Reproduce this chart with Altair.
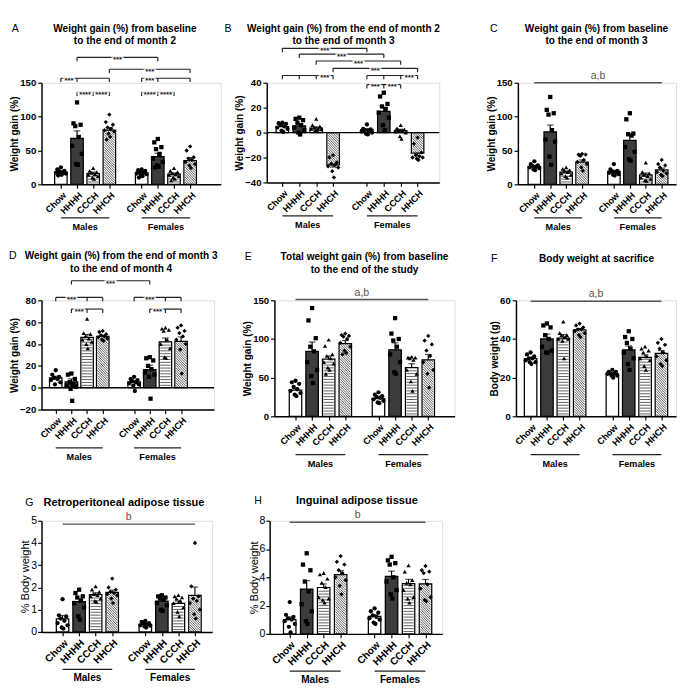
import altair as alt
import numpy as np
import pandas as pd

FONT = "Liberation Sans"
GROUPS = ["Chow", "HHHH", "CCCH", "HHCH"]
POS = [1, 2, 3, 4, 6, 7, 8, 9]
CATS = GROUPS + GROUPS
SEX_LABELS = ["Males", "Females"]
SEX_SPANS = [(1, 4), (6, 9)]
FILLS = ["white", "#3c3c3c", "white", "white"]
LABEL_EXPR = "['','Chow','HHHH','CCCH','HHCH','','Chow','HHHH','CCCH','HHCH'][datum.value]"
OFFS = [0, -0.22, 0.22, -0.11, 0.11, -0.3, 0.3, -0.05, 0.05, -0.17, 0.17]
BW = 13

# ---------------- data ----------------
A_mean = [18, 68, 16, 80, 17, 41, 15, 35]
A_sem = [1.3, 11, 2, 4, 1.3, 5, 1.8, 4.5]
A_pts = [
    [25, 22, 20, 19, 18, 17, 16, 15, 14, 13],
    [121, 90, 88, 86, 70, 57, 45, 30, 29],
    [24, 20, 18, 17, 15, 14, 12, 10, 8],
    [103, 92, 88, 84, 82, 80, 78, 75, 70, 66],
    [22, 21, 20, 18, 17, 16, 15, 14, 12, 10],
    [67, 62, 55, 52, 45, 38, 33, 28, 26, 25],
    [24, 20, 18, 16, 15, 14, 12, 10, 8, 6],
    [56, 50, 40, 38, 36, 33, 30, 28, 24],
]
A_br = [(2, 7, 187.5, [], [(4.5, "***")]), (4, 9, 170, [], [(6.5, "***")]),
        (1, 4, 156.7, [2], [(1.5, "***")]), (6, 9, 156.7, [7], [(6.5, "***")]),
        (2, 4, 136, [3], [(2.5, "****"), (3.5, "****")]),
        (6, 8, 136, [7], [(6.5, "****"), (7.5, "****")])]

B_mean = [4.8, 5.3, 3.6, -26, 2.4, 17, 1.5, -16.5]
B_sem = [0.9, 1.5, 1.0, 1.7, 0.8, 3.0, 1.2, 2.0]
B_pts = [
    [8, 7.5, 7, 6, 5, 4, 3, 1.5, 0.5],
    [12, 11, 10, 8, 6, 4, 2, 0, -1.5],
    [11, 6, 5, 4, 3, 3, 2.5, 2, 1.5],
    [-18, -20, -24, -25, -26, -27, -28, -31, -36],
    [6.5, 3, 2.5, 2, 1.5, 1, 0, -1, -1.5],
    [32, 29, 23, 21, 19, 16, 12, 6, 2],
    [6, 3.5, 2.5, 2, 1.5, 1, 0, -3, -5],
    [-4, -9, -16, -18, -19, -20, -20, -21, -22],
]
B_br = [(1, 6, 67.6, [], [(3.5, "***")]), (2, 7, 63, [], [(4.5, "***")]),
        (3, 8, 57.5, [], [(5.5, "***")]), (4, 9, 51.6, [], [(6.5, "***")]),
        (1, 4, 45.8, [2, 3], [(3.5, "***")]), (6, 9, 45.8, [7, 8], [(8.5, "***")]),
        (6, 8, 38.5, [7], [(6.5, "***"), (7.5, "***")])]

C_mean = [26, 77.5, 18, 33, 19, 65, 14, 21.5]
C_sem = [1.5, 10, 1.7, 3, 1.8, 8, 2.8, 2.5]
C_pts = [
    [34, 30, 28, 27, 26, 25, 24, 22, 21],
    [129, 110, 105, 103, 80, 66, 63, 41, 29],
    [25, 23, 21, 20, 18, 16, 14, 12, 10],
    [45, 44, 44, 42, 36, 33, 30, 25, 20],
    [30, 22, 20, 19, 18, 17, 15, 14, 13],
    [105, 96, 75, 74, 72, 55, 48, 37, 35],
    [32, 18, 16, 14, 12, 10, 8, 6, 5],
    [36, 30, 28, 25, 20, 18, 16, 14, 12],
]

D_mean = [9, 5.3, 46, 47, 5.3, 16.6, 42, 42.5]
D_sem = [1.5, 2.8, 2.8, 1.2, 1.3, 4, 3.5, 4]
D_pts = [
    [16, 12, 10, 9, 8, 7, 5, 3],
    [13, 12, 8, 5, 3, 2, 1, -1, -12],
    [63, 50, 49, 47, 45, 44, 42, 40, 36],
    [52, 51, 49, 48, 47, 46, 45, 44, 43],
    [10, 8, 7, 6, 5, 4, 3, 2, -3],
    [28, 27, 25, 20, 17, 14, 12, 10, -10],
    [55, 54, 53, 52, 44, 40, 36, 28, 27],
    [57, 55, 52, 50, 47, 44, 40, 35, 13],
]
D_br = [(2, 7, 97.9, [], [(4.5, "***")]),
        (1, 4, 82.7, [3], [(2, "***")]), (6, 9, 82.7, [8], [(7, "***")]),
        (2, 4, 72, [3], [(2.5, "***")]), (7, 9, 72, [8], [(7.5, "***")])]

E_mean = [34, 84, 74, 94, 23, 86, 63, 73]
E_sem = [2, 12, 4, 4, 1.5, 9, 5, 7]
E_pts = [
    [46, 44, 42, 38, 35, 33, 30, 28, 26],
    [140, 124, 101, 90, 84, 70, 60, 52, 43],
    [99, 91, 80, 78, 75, 70, 68, 63, 60, 55],
    [107, 105, 104, 103, 100, 95, 90, 85, 82, 80],
    [31, 28, 26, 25, 24, 22, 20, 18, 17],
    [127, 107, 100, 98, 90, 80, 70, 57, 55],
    [77, 76, 76, 75, 73, 60, 55, 45, 33],
    [104, 98, 93, 85, 78, 70, 60, 55, 37],
]

F_mean = [29.9, 40, 40.5, 44.7, 22, 34.4, 30.5, 32.5]
F_sem = [0.6, 2.5, 1.8, 0.7, 0.4, 2, 1.3, 1.5]
F_pts = [
    [33, 32, 31, 30, 30, 29, 28, 28, 27],
    [48, 47, 46, 42, 40, 36, 34, 33, 33],
    [49, 43, 42, 42, 41, 40, 40, 39, 30],
    [48, 47, 46, 45, 45, 44, 43, 42, 41],
    [24, 23, 23, 22, 22, 22, 21, 21, 20],
    [44, 41, 40, 38, 35, 33, 30, 27, 24],
    [36, 35, 34, 33, 31, 30, 29, 26, 24],
    [40, 38, 37, 35, 33, 31, 29, 27, 26],
]

G_mean = [0.59, 1.36, 1.68, 1.78, 0.34, 1.39, 1.29, 1.64]
G_sem = [0.15, 0.14, 0.08, 0.1, 0.03, 0.08, 0.1, 0.38]
G_pts = [
    [1.47, 0.75, 0.7, 0.6, 0.5, 0.4, 0.3, 0.2, 0.15],
    [1.9, 1.75, 1.6, 1.55, 1.4, 1.3, 1.1, 0.7, 0.55],
    [2.05, 1.9, 1.8, 1.7, 1.65, 1.6, 1.5, 1.4, 1.35],
    [2.4, 2.0, 1.9, 1.8, 1.75, 1.7, 1.65, 1.5, 1.3],
    [0.5, 0.45, 0.4, 0.38, 0.35, 0.3, 0.28, 0.25, 0.2],
    [1.65, 1.6, 1.55, 1.5, 1.45, 1.3, 1.2, 1.0, 0.95],
    [1.65, 1.6, 1.55, 1.5, 1.4, 1.3, 1.1, 0.9, 0.7],
    [4.0, 2.05, 1.6, 1.5, 1.4, 1.3, 1.0, 0.8, 0.6],
]

H_mean = [1.0, 3.17, 3.28, 4.19, 1.23, 4.06, 3.56, 3.53]
H_sem = [0.2, 0.6, 0.25, 0.28, 0.12, 0.38, 0.3, 0.32]
H_pts = [
    [2.25, 1.35, 1.2, 1.1, 1.0, 0.9, 0.7, 0.5, 0.1],
    [5.7, 4.9, 4.5, 3.7, 3.0, 2.1, 1.6, 0.9, 0.7],
    [4.3, 4.2, 3.9, 3.6, 3.3, 2.6, 2.5, 2.4, 2.2],
    [5.5, 5.1, 4.9, 4.5, 4.3, 4.0, 3.8, 3.4, 2.8],
    [1.8, 1.6, 1.5, 1.3, 1.2, 1.1, 1.0, 0.8, 0.7],
    [5.45, 5.2, 5.0, 4.9, 4.0, 3.7, 3.1, 2.8, 2.5],
    [4.85, 4.4, 3.8, 3.6, 3.5, 3.1, 2.6, 2.5, 2.2],
    [4.8, 4.5, 4.4, 4.3, 3.5, 3.2, 2.6, 2.4, 2.3],
]

# tpos / lpos: (x, baseline y) of the first title line and of the panel letter,
# in pixels relative to the plot's top-left corner
PANELS = {
    "A": dict(title=["Weight gain (%) from baseline", "to the end of  month 2"], ylab="Weight gain (%)",
              ydom=[0, 150], yticks=[0, 50, 100, 150], W=187, H=106, xdom=[0.1, 10.6],
              mean=A_mean, sem=A_sem, pts=A_pts, br=A_br, sig=None, row=1,
              tpos=(87, -53), lpos=(-31, -53), hhch="diamond"),
    "B": dict(title=["Weight gain (%) from the end of month 2", "to the end of month 3"], ylab="Weight gain (%)",
              ydom=[-40, 40], yticks=[-40, -20, 0, 20, 40], W=180, H=104, xdom=[0.36, 10],
              mean=B_mean, sem=B_sem, pts=B_pts, br=B_br, sig=None, row=1,
              tpos=(80, -53), lpos=(-44, -53), hhch="triangle-down"),
    "C": dict(title=["Weight gain (%) from baseline", "to the end of month 3"], ylab="Weight gain (%)",
              ydom=[0, 150], yticks=[0, 50, 100, 150], W=165, H=106, xdom=[0.27, 9.6],
              mean=C_mean, sem=C_sem, pts=C_pts, br=[], sig=("a,b", 150), row=1,
              tpos=(82, -53), lpos=(-29, -53), hhch="diamond"),
    "D": dict(title=["Weight gain (%) from the end of month 3", "to the end of month 4"], ylab="Weight gain (%)",
              ydom=[-20, 80], yticks=[-20, 0, 20, 40, 60, 80], W=180, H=114, xdom=[0.4, 10.8],
              mean=D_mean, sem=D_sem, pts=D_pts, br=D_br, sig=None, row=2,
              tpos=(83, -43), lpos=(-34, -43), hhch="diamond"),
    "E": dict(title=["Total weight gain (%) from baseline", "to the end of the study"], ylab="Weight gain (%)",
              ydom=[0, 150], yticks=[0, 50, 100, 150], W=188, H=121, xdom=[0.02, 10.3],
              mean=E_mean, sem=E_sem, pts=E_pts, br=[], sig=("a,b", 151), row=2,
              tpos=(94, -42), lpos=(-31, -42), hhch="diamond"),
    "F": dict(title=["Body weight at sacrifice"], ylab="Body weight (g)",
              ydom=[0, 60], yticks=[0, 20, 40, 60], W=167, H=121, xdom=[0.4, 9.6],
              mean=F_mean, sem=F_sem, pts=F_pts, br=[], sig=("a,b", 59.5), row=2,
              tpos=(84, -40), lpos=(-26, -40), hhch="diamond"),
    "G": dict(title=["Retroperitoneal adipose tissue"], ylab="% Body weight",
              ydom=[0, 5], yticks=[0, 1, 2, 3, 4, 5], W=178, H=116, xdom=[0.02, 9.75],
              mean=G_mean, sem=G_sem, pts=G_pts, br=[], sig=("b", 4.85), row=3,
              tpos=(86, -15), lpos=(-17, -15), hhch="diamond"),
    "H": dict(title=["Inguinal adipose tissue"], ylab="% Body weight",
              ydom=[0, 8], yticks=[0, 2, 4, 6, 8], W=180, H=118, xdom=[0.1, 9.7],
              mean=H_mean, sem=H_sem, pts=H_pts, br=[], sig=("b", 7.9), row=3,
              tpos=(91, -18), lpos=(-16, -18), hhch="diamond"),
}


def panel(letter, p):
    W, H = p["W"], p["H"]
    x0, x1 = p["xdom"]
    y0, y1 = p["ydom"]
    kx = W / (x1 - x0)
    ky = H / (y1 - y0)
    big = p["row"] == 3
    xaxis = alt.Axis(values=POS, labelExpr=LABEL_EXPR, grid=False, labelAngle=315,
                     labelFont=FONT, labelFontSize=10.5 if big else 9.5, labelFontWeight="bold",
                     labelColor="black", labelPadding=2, tickSize=4, tickWidth=1.2,
                     tickColor="black", domainColor="black", domainWidth=1.5,
                     labelOverlap=False, labelFlush=False)
    yaxis = alt.Axis(values=p["yticks"], grid=False, labelFont=FONT,
                     labelFontSize=11 if big else 10, labelFontWeight="normal" if big else "bold",
                     labelColor="black", labelPadding=1 if big else 2, tickSize=4, tickWidth=1.2,
                     tickColor="black", domainColor="black", domainWidth=1.5,
                     titleFont=FONT, titleFontSize=11.5 if big else 10.5,
                     titleFontWeight="normal" if big else "bold", titleColor="black",
                     titlePadding=0, labelOverlap=False, labelFlush=False)
    xs = alt.Scale(domain=[x0, x1], nice=False, zero=False)
    ys = alt.Scale(domain=[y0, y1], nice=False, zero=False)

    def X(f):
        return alt.X(f, type="quantitative", scale=xs, axis=xaxis, title=None)

    def Y(f):
        return alt.Y(f, type="quantitative", scale=ys, axis=yaxis, title=p["ylab"])

    mean, sem = p["mean"], p["sem"]
    bars = pd.DataFrame({
        "pos": POS, "grp": CATS, "mean": mean, "zero": 0,
        "tip": [m + s if m >= 0 else m - s for m, s in zip(mean, sem)],
    })
    rows = []
    for pos, g, vals in zip(POS, CATS, p["pts"]):
        for i, v in enumerate(vals):
            rows.append({"x": pos + OFFS[i % len(OFFS)], "y": v, "grp": g})
    pts = pd.DataFrame(rows)

    # fill patterns (horizontal stripes for CCCH, diagonal hatch for HHCH)
    hw = (BW / 2 - 0.8) / kx
    pat = []
    for pos, g, m in zip(POS, CATS, mean):
        yb, yt = min(0, m), max(0, m)
        h = (yt - yb) * ky
        w = 2 * hw * kx
        if g == "CCCH":
            for v in np.arange(2.5, h - 1, 3.0):
                pat.append({"x": pos - hw, "x2": pos + hw, "y": yb + v / ky, "y2": yb + v / ky})
        if g == "HHCH":
            for d in np.arange(2.6, w + h, 2.6):
                u0, u1 = max(0, d - h), min(w, d)
                pat.append({"x": pos - hw + u0 / kx, "x2": pos - hw + u1 / kx,
                            "y": yb + (d - u0) / ky, "y2": yb + (d - u1) / ky})
    pat = pd.DataFrame(pat)

    layers = []
    layers.append(alt.Chart(bars).mark_bar(orient="vertical", size=BW, strokeWidth=0).encode(
        x=X("pos"), y=Y("mean"), y2="zero",
        fill=alt.Fill("grp:N", scale=alt.Scale(domain=GROUPS, range=FILLS), legend=None)))
    layers.append(alt.Chart(pat).mark_rule(color="#333", strokeWidth=0.8).encode(
        x=X("x"), x2="x2", y=Y("y"), y2="y2"))
    layers.append(alt.Chart(bars).mark_bar(orient="vertical", size=BW, fill="white", fillOpacity=0,
                                           stroke="black", strokeWidth=1.3).encode(
        x=X("pos"), y=Y("mean"), y2="zero"))
    if y0 < 0:
        layers.append(alt.Chart(pd.DataFrame({"z": [0]})).mark_rule(color="black", strokeWidth=1.5)
                      .encode(y=Y("z")))
    layers.append(alt.Chart(bars).mark_rule(color="black", strokeWidth=1.2).encode(
        x=X("pos"), y=Y("mean"), y2="tip"))
    layers.append(alt.Chart(bars).mark_tick(orient="horizontal", color="black", size=7, thickness=1.2)
                  .encode(x=X("pos"), y=Y("tip")))
    shapes = ["circle", "square", "triangle-up", p["hhch"]]
    layers.append(alt.Chart(pts).mark_point(filled=True, color="black", opacity=1, size=20).encode(
        x=X("x"), y=Y("y"),
        shape=alt.Shape("grp:N", scale=alt.Scale(domain=GROUPS, range=shapes), legend=None)))

    # significance brackets
    if p["br"]:
        hl, tk, lb = [], [], []
        for a, b, lev, ticks, labels in p["br"]:
            hl.append({"a": a, "b": b, "y": lev})
            for t in [a, b] + ticks:
                tk.append({"x": t, "y": lev, "y2": lev - 4 / ky})
            for lx, t in labels:
                lb.append({"x": lx, "y": lev, "t": t, "w": 3.6 * len(t) + 2})
        hl, tk, lb = pd.DataFrame(hl), pd.DataFrame(tk), pd.DataFrame(lb)
        layers.append(alt.Chart(hl).mark_rule(color="#222", strokeWidth=1.2).encode(
            x=X("a"), x2="b", y=Y("y")))
        layers.append(alt.Chart(tk).mark_rule(color="#222", strokeWidth=1.2).encode(
            x=X("x"), y=Y("y"), y2="y2"))
        layers.append(alt.Chart(lb).mark_tick(orient="horizontal", color="white", thickness=4).encode(
            x=X("x"), y=Y("y"), size=alt.Size("w:Q", scale=None, legend=None)))
        layers.append(alt.Chart(lb).mark_text(font=FONT, fontSize=8, fontWeight="bold", dy=5,
                                              color="#222", baseline="alphabetic").encode(
            x=X("x"), y=Y("y"), text="t:N"))
    if p["sig"]:
        st, sv = p["sig"]
        sd = pd.DataFrame({"a": [1], "b": [9], "c": [5], "y": [sv], "t": [st]})
        layers.append(alt.Chart(sd).mark_rule(color="#555", strokeWidth=1.5).encode(
            x=X("a"), x2="b", y=Y("y")))
        layers.append(alt.Chart(sd).mark_text(font=FONT, fontSize=11, color="#555", dy=-4,
                                              baseline="alphabetic").encode(
            x=X("c"), y=Y("y"), text="t:N"))

    # Males / Females
    gl = {1: (35, 48), 2: (40, 53), 3: (39, 51)}[p["row"]]
    gd = pd.DataFrame({"a": [s[0] for s in SEX_SPANS], "b": [s[1] for s in SEX_SPANS],
                       "c": [(s[0] + s[1]) / 2 for s in SEX_SPANS], "t": SEX_LABELS})
    layers.append(alt.Chart(gd).mark_rule(color="#222", strokeWidth=1.3).encode(
        x=X("a"), x2="b", y=alt.value(H + gl[0])))
    layers.append(alt.Chart(gd).mark_text(font=FONT, fontSize=10.5 if big else 9.5, fontWeight="bold",
                                          color="black", baseline="alphabetic").encode(
        x=X("c"), y=alt.value(H + gl[1]), text="t:N"))

    # title (one text mark per line, alphabetic baseline) and panel letter
    tsize = 11.5 if big else 10.5
    for i, line in enumerate(p["title"]):
        td = pd.DataFrame({"t": [line]})
        layers.append(alt.Chart(td).mark_text(font=FONT, fontSize=tsize, fontWeight="bold",
                                              color="black", align="center",
                                              baseline="alphabetic").encode(
            x=alt.value(p["tpos"][0]), y=alt.value(p["tpos"][1] + 13 * i), text="t:N"))
    ld = pd.DataFrame({"l": [letter]})
    layers.append(alt.Chart(ld).mark_text(font=FONT, fontSize=11, color="black",
                                          align="left", baseline="alphabetic").encode(
        x=alt.value(p["lpos"][0]), y=alt.value(p["lpos"][1]), text="l:N"))

    return alt.layer(*layers).properties(width=W, height=H)


ch = {k: panel(k, v) for k, v in PANELS.items()}
row1 = alt.hconcat(alt.hconcat(ch["A"], ch["B"], spacing=2), ch["C"], spacing=46)
row2 = alt.hconcat(alt.hconcat(ch["D"], ch["E"], spacing=24), ch["F"], spacing=35)
row3 = alt.hconcat(ch["G"], ch["H"], spacing=36)
top = alt.vconcat(row1, row2, spacing=18)
chart = alt.vconcat(top, row3, spacing=26).properties(padding=0).configure_view(
    stroke=None).configure(font=FONT)

chart.save("out.html", embed_options={"renderer": "svg", "actions": False})
